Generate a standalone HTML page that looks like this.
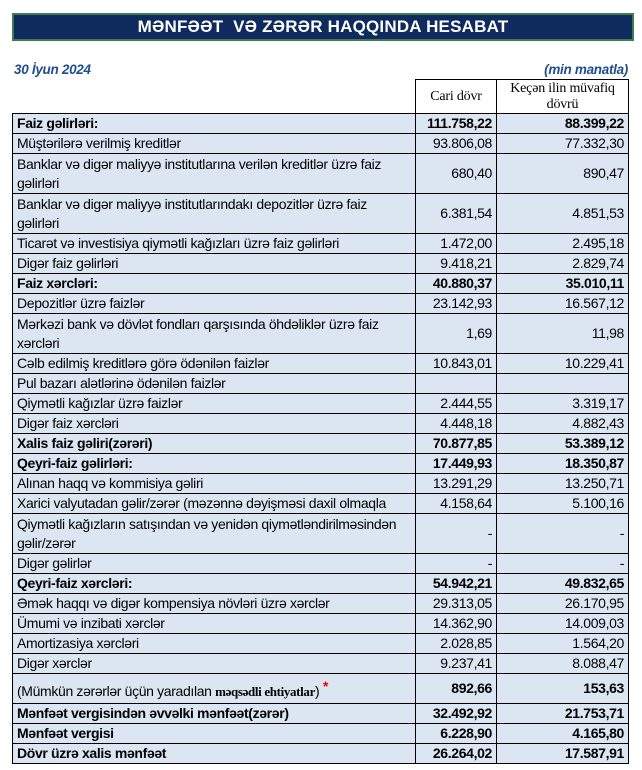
<!DOCTYPE html>
<html><head><meta charset="utf-8"><style>
body{margin:0;width:642px;height:770px;background:#fff;font-family:"Liberation Sans",sans-serif;position:relative;overflow:hidden}
.title{position:absolute;left:12px;top:13px;width:618px;height:24px;background:#0e2a5e;border:2px solid #3d7d4f;color:#fff;font-weight:bold;font-size:17px;text-align:center;line-height:24px;letter-spacing:0.2px}
.date{position:absolute;left:14px;top:62px;font-size:13.5px;font-weight:bold;font-style:italic;color:#1f4e8c;letter-spacing:-0.3px}
.unit{position:absolute;right:14px;top:62px;font-size:13.5px;font-weight:bold;font-style:italic;color:#1f4e8c;letter-spacing:-0.3px}
table{position:absolute;left:12px;top:79px;border-collapse:collapse;table-layout:fixed;font-size:14px;letter-spacing:-0.35px}
td{border:1px solid #000;background:#dce6f2;padding:0 4px;height:19px;line-height:19px;white-space:nowrap;overflow:hidden}
td.n{text-align:right}
tr.b td{font-weight:bold}
.hd td{background:#fff;font-family:"Liberation Serif",serif;text-align:center;font-size:14px;line-height:16px;letter-spacing:-0.2px;height:33px}
.hd td.e{border:none;border-right:1px solid #000}
</style></head><body>
<div class="title">MƏNFƏƏT&nbsp; VƏ ZƏRƏR HAQQINDA HESABAT</div>
<div class="date">30 İyun 2024</div>
<div class="unit">(min manatla)</div>
<table>
<colgroup><col style="width:403px"><col style="width:81px"><col style="width:132px"></colgroup>
<tr class="hd"><td class="e"></td><td>Cari dövr</td><td>Keçən ilin müvafiq<br>dövrü</td></tr>
<tr class="b"><td>Faiz gəlirləri:</td><td class="n">111.758,22</td><td class="n">88.399,22</td></tr>
<tr><td>Müştərilərə verilmiş kreditlər</td><td class="n">93.806,08</td><td class="n">77.332,30</td></tr>
<tr><td style="height:39px">Banklar və digər maliyyə institutlarına verilən kreditlər üzrə faiz<br>gəlirləri</td><td class="n">680,40</td><td class="n">890,47</td></tr>
<tr><td style="height:39px">Banklar və digər maliyyə institutlarındakı depozitlər üzrə faiz<br>gəlirləri</td><td class="n">6.381,54</td><td class="n">4.851,53</td></tr>
<tr><td>Ticarət və investisiya qiymətli kağızları üzrə faiz gəlirləri</td><td class="n">1.472,00</td><td class="n">2.495,18</td></tr>
<tr><td>Digər faiz gəlirləri</td><td class="n">9.418,21</td><td class="n">2.829,74</td></tr>
<tr class="b"><td>Faiz xərcləri:</td><td class="n">40.880,37</td><td class="n">35.010,11</td></tr>
<tr><td>Depozitlər üzrə faizlər</td><td class="n">23.142,93</td><td class="n">16.567,12</td></tr>
<tr><td style="height:39px">Mərkəzi bank və dövlət fondları qarşısında öhdəliklər üzrə faiz<br>xərcləri</td><td class="n">1,69</td><td class="n">11,98</td></tr>
<tr><td>Cəlb edilmiş kreditlərə görə ödənilən faizlər</td><td class="n">10.843,01</td><td class="n">10.229,41</td></tr>
<tr><td>Pul bazarı alətlərinə ödənilən faizlər</td><td class="n"></td><td class="n"></td></tr>
<tr><td>Qiymətli kağızlar üzrə faizlər</td><td class="n">2.444,55</td><td class="n">3.319,17</td></tr>
<tr><td>Digər faiz xərcləri</td><td class="n">4.448,18</td><td class="n">4.882,43</td></tr>
<tr class="b"><td>Xalis faiz gəliri(zərəri)</td><td class="n">70.877,85</td><td class="n">53.389,12</td></tr>
<tr class="b"><td>Qeyri-faiz gəlirləri:</td><td class="n">17.449,93</td><td class="n">18.350,87</td></tr>
<tr><td>Alınan haqq və kommisiya gəliri</td><td class="n">13.291,29</td><td class="n">13.250,71</td></tr>
<tr><td>Xarici valyutadan gəlir/zərər (məzənnə dəyişməsi daxil olmaqla</td><td class="n">4.158,64</td><td class="n">5.100,16</td></tr>
<tr><td style="height:39px">Qiymətli kağızların satışından və yenidən qiymətləndirilməsindən<br>gəlir/zərər</td><td class="n">-</td><td class="n">-</td></tr>
<tr><td>Digər gəlirlər</td><td class="n">-</td><td class="n">-</td></tr>
<tr class="b"><td>Qeyri-faiz xərcləri:</td><td class="n">54.942,21</td><td class="n">49.832,65</td></tr>
<tr><td>Əmək haqqı və digər kompensiya növləri üzrə xərclər</td><td class="n">29.313,05</td><td class="n">26.170,95</td></tr>
<tr><td>Ümumi və inzibati xərclər</td><td class="n">14.362,90</td><td class="n">14.009,03</td></tr>
<tr><td>Amortizasiya xərcləri</td><td class="n">2.028,85</td><td class="n">1.564,20</td></tr>
<tr><td>Digər xərclər</td><td class="n">9.237,41</td><td class="n">8.088,47</td></tr>
<tr><td style="height:29px">(Mümkün zərərlər üçün yaradılan <b style="font-family:'Liberation Serif',serif;font-size:13px">məqsədli ehtiyatlar</b>) <span style="color:#e00;font-weight:bold;vertical-align:5px">*</span></td><td class="n"><b>892,66</b></td><td class="n"><b>153,63</b></td></tr>
<tr class="b"><td>Mənfəət vergisindən əvvəlki mənfəət(zərər)</td><td class="n">32.492,92</td><td class="n">21.753,71</td></tr>
<tr class="b"><td>Mənfəət vergisi</td><td class="n">6.228,90</td><td class="n">4.165,80</td></tr>
<tr class="b"><td>Dövr üzrə xalis mənfəət</td><td class="n">26.264,02</td><td class="n">17.587,91</td></tr>
</table>
</body></html>
